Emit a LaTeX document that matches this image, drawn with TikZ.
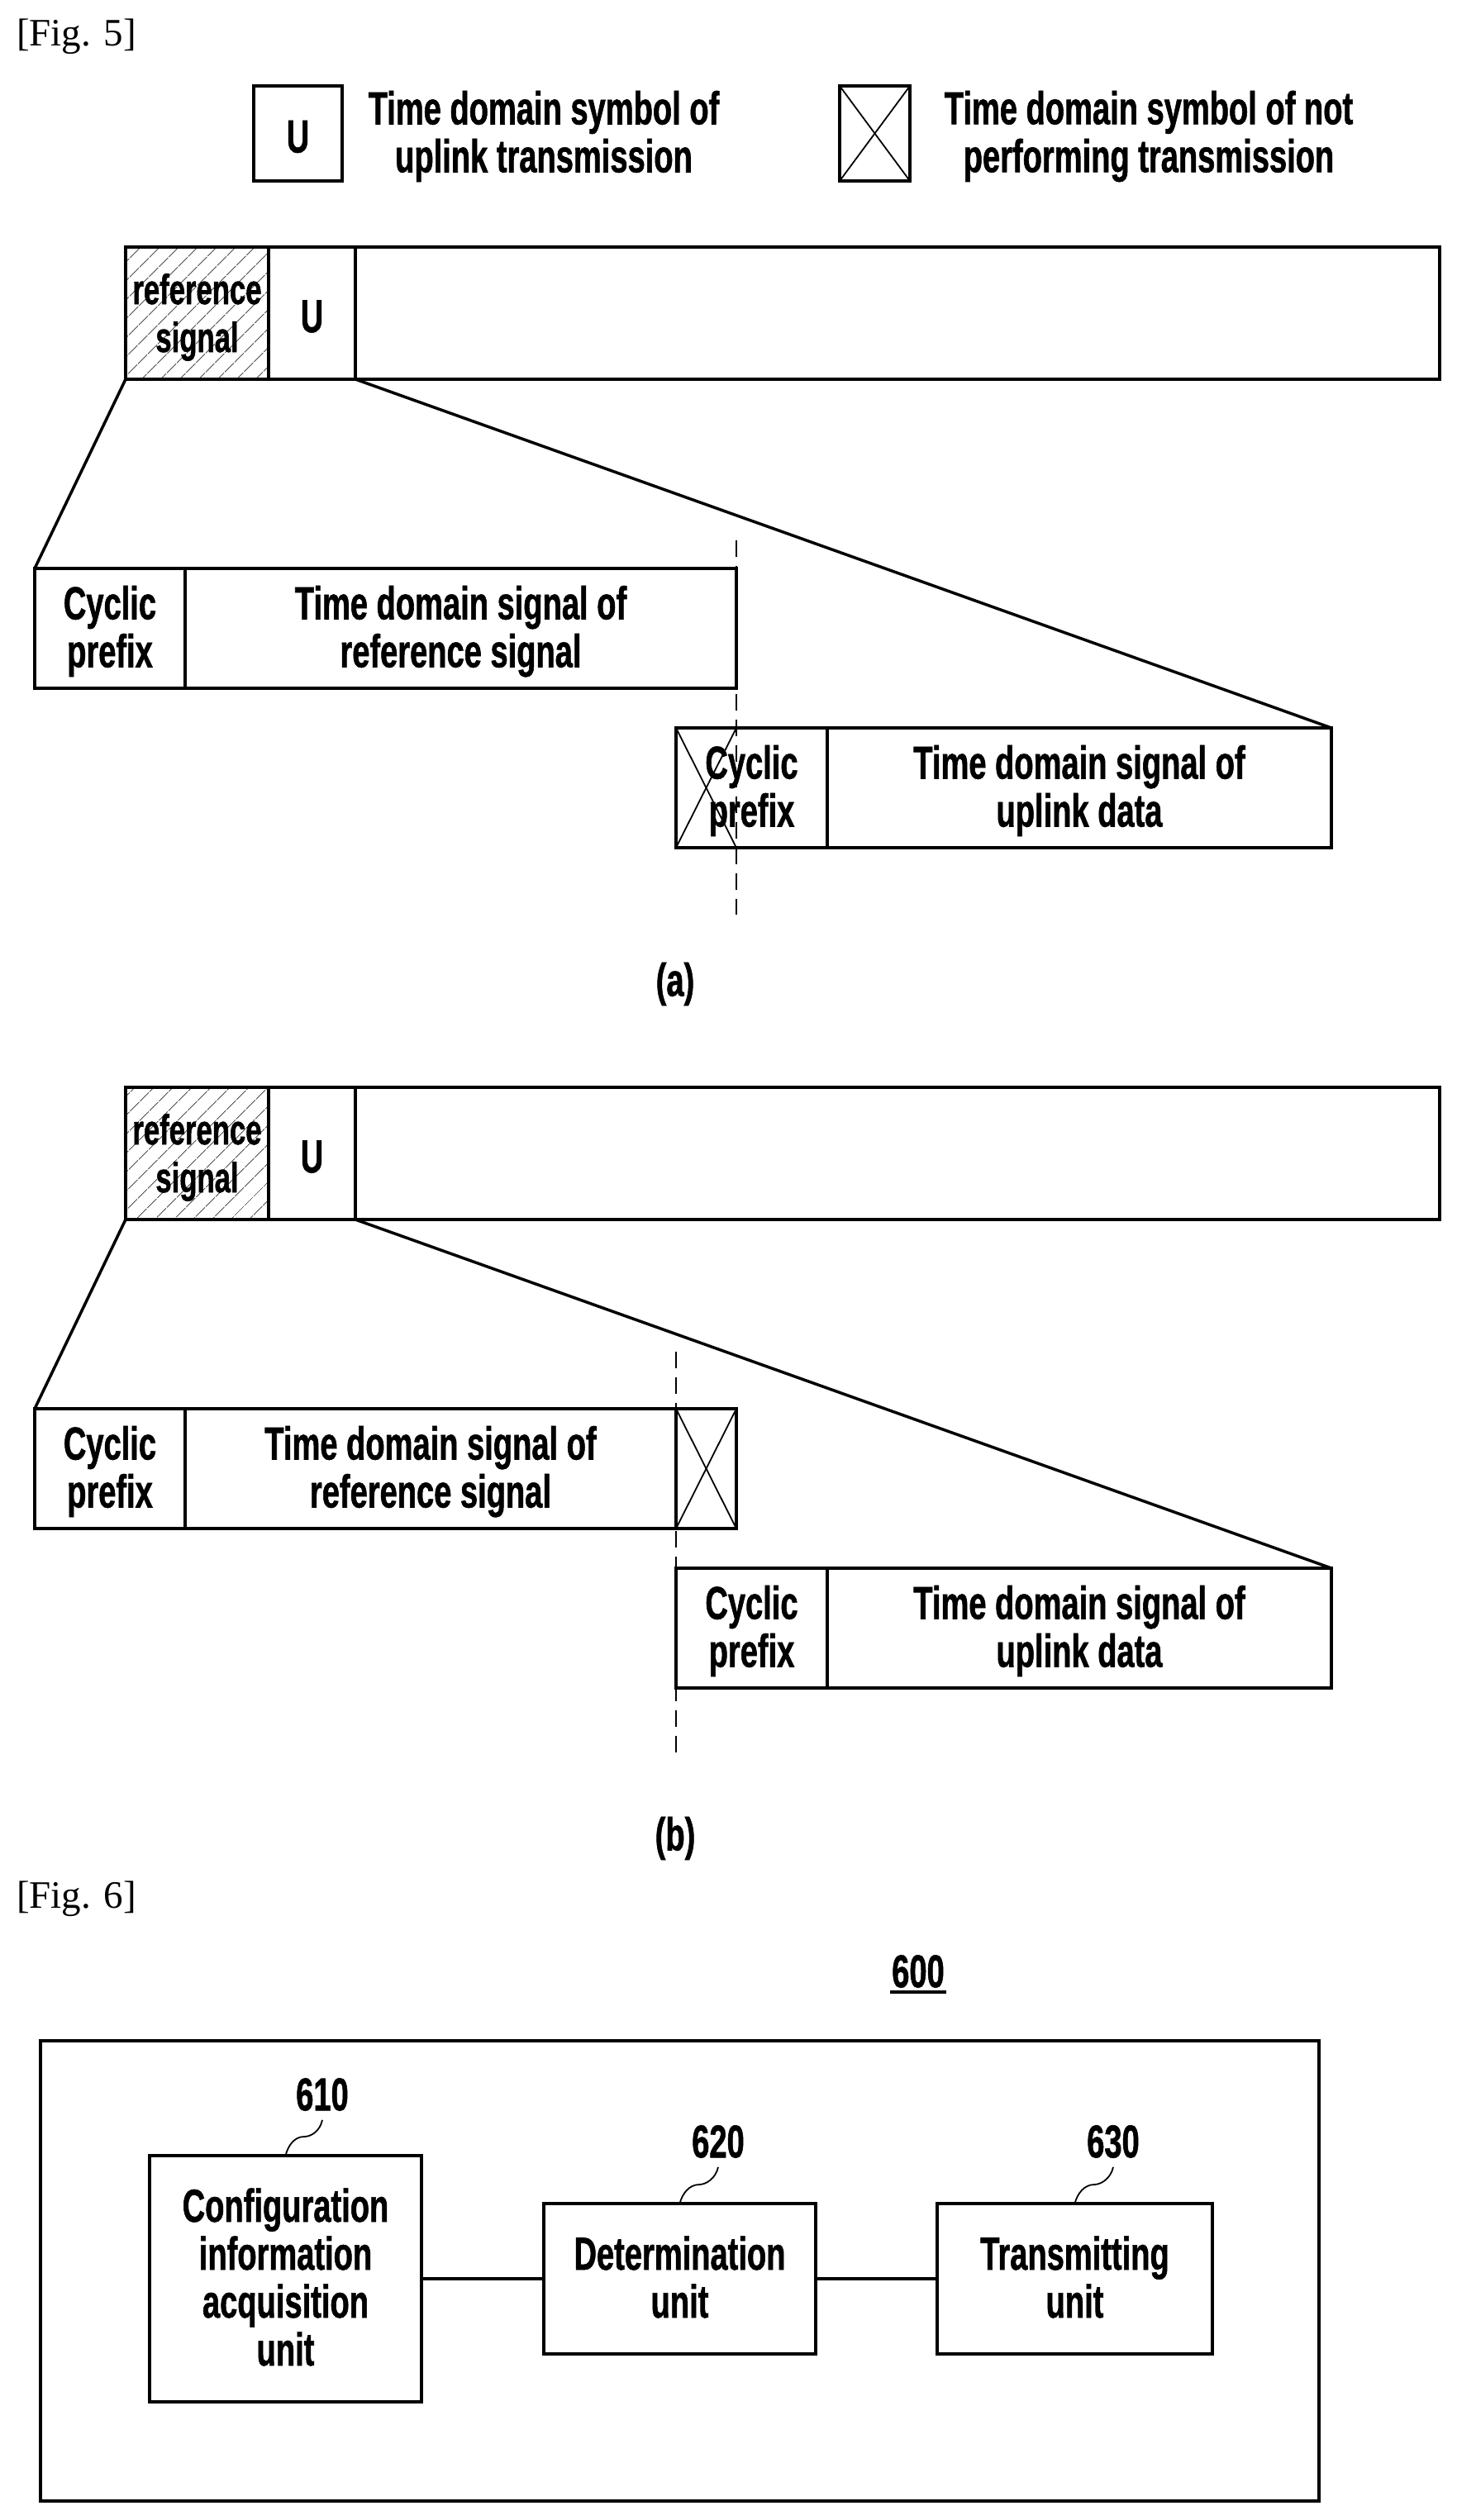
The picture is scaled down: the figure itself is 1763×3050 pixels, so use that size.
\documentclass[tikz,border=0pt]{standalone}
\usepackage{fontspec}
\setmainfont{Liberation Serif}
\newfontfamily\brevet[FakeStretch=0.68,FakeBold=1]{Liberation Sans Bold}
\usetikzlibrary{patterns.meta}
\newcommand{\tete}{\rule{0pt}{48pt}}
\newcommand{\pied}{\rule[-12pt]{0pt}{12pt}}
\newcommand{\lettre}{\rule{0pt}{64pt}U\rule[-18pt]{0pt}{18pt}}
\begin{document}
\begin{tikzpicture}[x=1pt, y=-1pt, line width=4pt]
\tikzstyle{boite} = [draw, anchor=north west, inner sep=0pt, outer sep=0pt, align=center, font=\brevet\fontsize{56}{58}\selectfont]
\tikzstyle{texte} = [anchor=center, inner sep=0pt, align=center, font=\brevet\fontsize{56}{58}\selectfont]
\tikzstyle{titre} = [anchor=base west, inner sep=0pt, font=\fontsize{47}{49}\selectfont]
\tikzstyle{croix} = [line width=1.8pt]
\tikzstyle{biais} = [line width=3.5pt]
\tikzstyle{pointille} = [line width=2pt, dash pattern=on 20pt off 11pt]
\tikzstyle{hachure} = [font=\brevet\fontsize{51}{58}\selectfont, pattern={Lines[angle=45, distance=17pt, line width=0.8pt]}]
\useasboundingbox (0,0) rectangle (1763,3050);
\node[titre] (F5) at (18,55) {[Fig. 5]};
% legend
\node[boite, minimum width=107pt, minimum height=115pt] (LU) at (307,104) {\lettre};
\node[texte] (LUt) at (658,165) {Time domain symbol of\\uplink transmission};
\node[boite, minimum width=85pt, minimum height=115pt] (LX) at (1016,104) {};
\draw[croix] (LX.north west) -- (LX.south east);
\draw[croix] (LX.north east) -- (LX.south west);
\node[texte] (LXt) at (1390,165) {Time domain symbol of not\\performing transmission};
% (a)
\node[boite, hachure, minimum width=173pt, minimum height=160pt] (Ra) at (152,299) {\tete reference\\signal\pied};
\node[boite, minimum width=105pt, minimum height=160pt] (Ua) at (325,299) {\lettre};
\node[boite, minimum width=1312pt, minimum height=160pt] (Ba) at (430,299) {};
\node[boite, minimum width=182pt, minimum height=145pt] (Ca) at (42,688) {\tete Cyclic\\prefix\pied};
\node[boite, minimum width=667pt, minimum height=145pt] (Sa) at (224,688) {\tete Time domain signal of\\reference signal\pied};
\node[boite, minimum width=183pt, minimum height=145pt] (Pa) at (818,881) {\tete Cyclic\\prefix\pied};
\node[boite, minimum width=610pt, minimum height=145pt] (Da) at (1001,881) {\tete Time domain signal of\\uplink data\pied};
\coordinate (Xa) at (891,881);
\coordinate (Ya) at (891,1026);
\draw[croix] (Pa.north west) -- (Ya);
\draw[croix] (Pa.south west) -- (Xa);
\coordinate (Ha) at (891,654);
\coordinate (Ka) at (891,1107);
\draw[pointille] (Ha) -- (Ka);
\draw[biais] (Ra.south west) -- (Ca.north west);
\draw[biais] (Ua.south east) -- (Da.north east);
\node[texte] (La) at (817,1191) {(a)};
% (b)
\node[boite, hachure, minimum width=173pt, minimum height=160pt] (Rb) at (152,1316) {\tete reference\\signal\pied};
\node[boite, minimum width=105pt, minimum height=160pt] (Ub) at (325,1316) {\lettre};
\node[boite, minimum width=1312pt, minimum height=160pt] (Bb) at (430,1316) {};
\node[boite, minimum width=182pt, minimum height=145pt] (Cb) at (42,1705) {\tete Cyclic\\prefix\pied};
\node[boite, minimum width=594pt, minimum height=145pt] (Sb) at (224,1705) {\tete Time domain signal of\\reference signal\pied};
\node[boite, minimum width=73pt, minimum height=145pt] (Nb) at (818,1705) {};
\draw[croix] (Nb.north west) -- (Nb.south east);
\draw[croix] (Nb.north east) -- (Nb.south west);
\node[boite, minimum width=183pt, minimum height=145pt] (Pb) at (818,1898) {\tete Cyclic\\prefix\pied};
\node[boite, minimum width=610pt, minimum height=145pt] (Db) at (1001,1898) {\tete Time domain signal of\\uplink data\pied};
\coordinate (Hb) at (818,1636);
\coordinate (Kb) at (818,2129);
\draw[pointille] (Hb) -- (Kb);
\draw[biais] (Rb.south west) -- (Cb.north west);
\draw[biais] (Ub.south east) -- (Db.north east);
\node[texte] (Lb) at (817,2225) {(b)};
% Fig. 6
\node[titre] (F6) at (18,2309) {[Fig. 6]};
\node[texte] (N600) at (1111,2386) {600};
\draw[biais] ([yshift=-3pt]N600.south west) -- ([yshift=-3pt]N600.south east);
\node[boite, minimum width=1547pt, minimum height=557pt] (M) at (49,2470) {};
\node[boite, minimum width=329pt, minimum height=298pt] (A) at (181,2609) {\tete Configuration\\information\\acquisition\\unit\pied};
\node[boite, minimum width=329pt, minimum height=182pt] (D) at (658,2667) {\tete Determination\\unit\pied};
\node[boite, minimum width=333pt, minimum height=182pt] (T) at (1134,2667) {\tete Transmitting\\unit\pied};
\draw[biais] (D.west -| A.east) -- (D.west);
\draw[biais] (D.east) -- (T.west);
\node[texte] (N610) at (390,2535) {610};
\node[texte] (N620) at (869,2592) {620};
\node[texte] (N630) at (1347,2592) {630};
\coordinate (Q610) at (368,2586);
\coordinate (Q620) at (846,2644);
\coordinate (Q630) at (1324,2644);
\draw[croix] ([yshift=-9pt]N610.south) .. controls +(-3,14) and +(8,0) .. (Q610) .. controls +(-12,0) and +(3,-12) .. (A.north);
\draw[croix] ([yshift=-9pt]N620.south) .. controls +(-3,14) and +(8,0) .. (Q620) .. controls +(-12,0) and +(3,-12) .. (D.north);
\draw[croix] ([yshift=-9pt]N630.south) .. controls +(-3,14) and +(8,0) .. (Q630) .. controls +(-12,0) and +(3,-12) .. (T.north);
\end{tikzpicture}
\end{document}
